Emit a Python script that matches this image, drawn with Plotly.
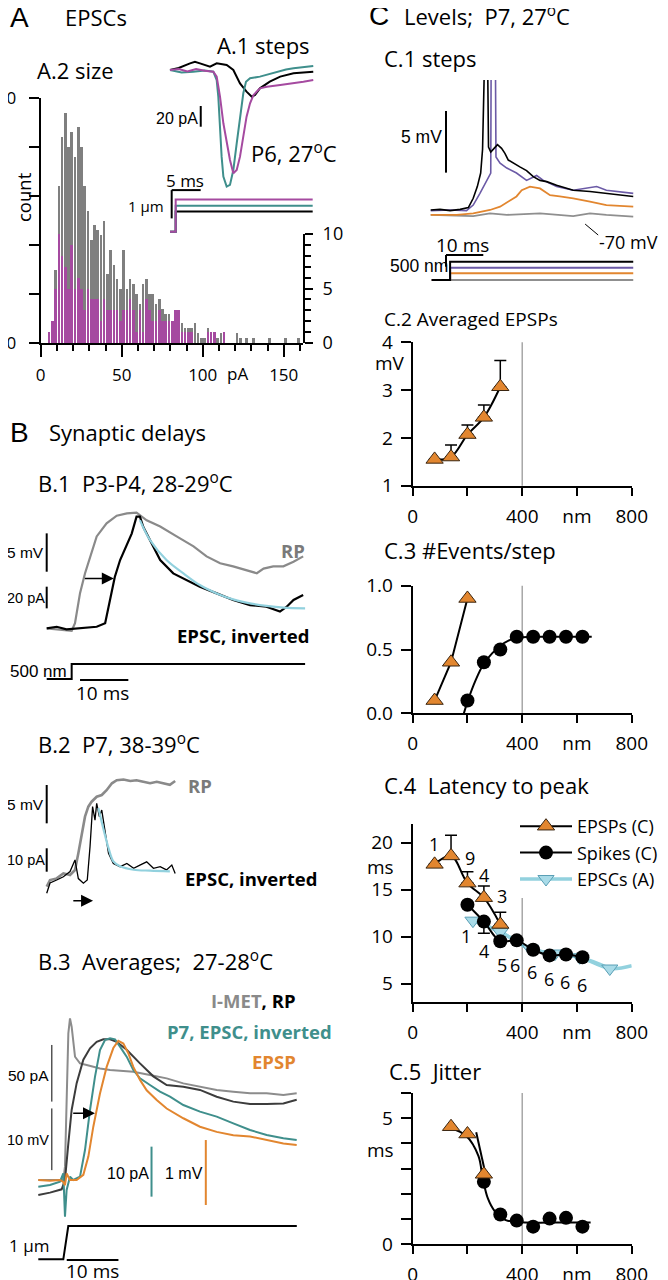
import plotly.graph_objects as go

W, H = 668, 1280
OFF = 8  # page body margin offset of the rendered figure
FONT = "Open Sans"
SCALEF = "Liberation Sans, Arial"
BIG = "Liberation Sans, Arial"

GRAYH = '#7f7f7f'; MAG = '#a54aa0'; TEAL = '#3f8f8c'; CYAN = '#92d1de'
ORANGE = '#e2862f'; PURPLE = '#6b5aa6'; DGRAY = '#3c3c3c'; LGRAY = '#8a8a8a'

# ---------------- A.2 histogram (2-pA bins) ----------------
hist_bin_pA = [5, 7, 9, 11, 13, 15, 17, 19, 21, 23, 25, 27, 29, 31, 33, 35, 37, 39, 41, 43,
               45, 47, 49, 51, 53, 55, 57, 59, 61, 63, 65, 67, 69, 71, 73, 75, 77, 79, 81, 83,
               85, 87, 89, 91, 93, 95, 97, 99, 101, 103, 105, 107, 109, 111, 113, 115, 117, 119, 121, 123,
               125, 127, 129, 131, 133, 135, 137, 139, 141, 143, 145, 147, 149, 151, 153, 155, 157, 159]
hist_all = [2, 4, 15, 32, 42, 47, 40, 43, 38, 44, 40, 32, 27, 21, 24, 23, 22, 25, 14, 19,
            16, 13, 11, 19, 11, 13, 12, 10, 8, 12, 13, 10, 10, 8, 9, 7, 6, 6, 4, 6,
            6, 4, 3, 3, 3, 4, 2, 1, 1, 3, 2, 2, 1, 2, 2, 0, 0, 0, 2, 1,
            0, 1, 0, 1, 0, 0, 0, 0, 1, 0, 0, 0, 0, 1, 0, 0, 0, 1]
hist_P6 = [1, 2, 5, 10, 8, 7, 5, 9, 5, 6, 5, 3, 5, 4, 4, 4, 2, 4, 3, 3,
           3, 3, 2, 3, 3, 4, 3, 1, 3, 1, 4, 3, 2, 2, 3, 2, 2, 2, 2, 3,
           3, 1, 1, 1, 1, 0, 0, 0, 0, 1, 1, 1, 0, 0, 1, 0, 0, 0, 0, 0,
           0, 0, 0, 0, 0, 0, 0, 0, 0, 0, 0, 0, 0, 0, 0, 0, 0, 0]

# ---------------- A.1 EPSC traces (ms, pA) and steps (um) ----------------
a1_t_mag = [0, 1.5, 3.0, 4.5, 6.0, 7.47, 8.05, 8.62, 9.2, 9.77, 10.34, 10.92, 11.5, 12.07, 12.64, 13.2, 13.8, 14.4, 15.5, 16.7, 19.0, 21.3, 23.0, 24.7]
a1_i_mag = [0, 1.0, -1.5, 1.0, -0.8, -1.6, -6.4, -25.8, -51.5, -70.8, -86.9, -99.8, -96.6, -83.7, -64.4, -45.1, -32.2, -24.1, -17.7, -16.1, -14.5, -12.9, -11.3, -9.7]
a1_t_teal = [0, 2.0, 4.0, 6.0, 7.47, 8.05, 8.33, 8.62, 8.9, 9.2, 9.77, 10.34, 10.92, 11.5, 12.07, 12.64, 13.1, 13.8, 15.5, 17.0, 18.4, 20.0, 21.3, 23.0, 24.7]
a1_i_teal = [0, -2.5, -1.6, -0.5, -1.6, -9.7, -25.8, -57.9, -83.7, -103, -112.7, -111, -96.6, -70.8, -45.1, -22.5, -11.3, -8.0, -6.4, -4.0, -1.6, 0.5, 1.6, 2.5, 3.9]
a1_t_blk = [0, 1.5, 3.45, 4.3, 5.17, 6.9, 8.05, 9.77, 10.92, 12.07, 13.2, 14.1, 14.66, 15.5, 17.2, 19.0, 21.3, 24.7]
a1_i_blk = [0, 2.0, 6.4, 8.0, 6.4, 3.2, 6.4, 4.8, 0, -12.9, -20.9, -25.8, -24.1, -17.7, -11.3, -6.4, -3.2, -1.6]
a1_step_t = [0, 0.98, 0.98, 24.6]
a1_step_mag = [0, 0, 1.14, 1.14]
a1_step_teal = [0, 0, 0.92, 0.92]
a1_step_blk = [0, 0, 0.71, 0.71]

# ---------------- B.1 (ms; RP in mV, EPSC in pA inverted) ----------------
b1_t_rp = [0, 5.17, 5.86, 6.9, 7.94, 8.97, 10.35, 12.4, 14.5, 16.6, 18.6, 20.7, 23.5, 26.9, 30.4, 33.1, 35.9, 38.6, 41.4, 43.5, 44.9, 46.9, 49.0, 51.1, 53.1]
b1_rp = [0.2, -0.1, 0.9, 4.8, 7.4, 9.6, 12.2, 13.9, 14.9, 15.2, 15.3, 14.3, 13.5, 12.2, 10.9, 9.6, 8.7, 8.3, 7.8, 7.4, 8.0, 8.3, 8.3, 8.9, 9.6]
b1_t_epsc = [0, 2.07, 4.1, 6.9, 10.35, 12.1, 13.1, 14.1, 15.2, 16.6, 17.6, 18.6, 19.3, 20.0, 21.4, 23.5, 26.2, 29.0, 31.7, 35.2, 38.6, 42.1, 45.5, 48.3, 49.7, 51.1, 53.1]
b1_epsc = [1.5, 3, 0.6, 1.5, 3, 6.2, 27.7, 49, 64.6, 78.5, 89, 104.6, 104.6, 95, 83, 64.6, 52.3, 46, 40, 33.8, 27.7, 23, 21.5, 17, 21.5, 27.7, 32.3]
b1_t_fit = [19.3, 21.4, 24.8, 28.3, 31.7, 35.2, 38.6, 42.1, 45.5, 49.0, 53.5]
b1_fit = [101.5, 83, 64.6, 52.3, 41.5, 33.8, 28.3, 24.6, 22.2, 20.6, 20]
b1_step_t = [0, 5.17, 5.17, 53.5]
b1_step_nm = [0, 0, 500, 500]

# ---------------- B.2 ----------------
b2_t_rp = [0, 0.69, 2.07, 3.45, 4.83, 5.86, 6.55, 7.24, 7.93, 8.62, 9.3, 10.35, 11.4, 12.4, 13.5, 14.5, 15.9, 17.3, 18.6, 20.0, 21.4, 22.8, 24.2, 25.5, 26.6]
b2_rp = [-0.48, 0.39, 0.6, 1.26, 1.04, 1.69, 3.87, 6.47, 8.65, 9.95, 10.6, 11.25, 11.47, 12.1, 13.0, 13.4, 13.5, 13.3, 13.4, 13.2, 13.0, 13.2, 13.0, 12.8, 13.3]
b2_t_epsc = [0, 0.69, 2.07, 3.45, 4.83, 5.86, 6.55, 7.6, 8.4, 8.97, 9.5, 10.0, 10.35, 10.9, 11.4, 12.1, 12.8, 13.8, 15.2, 16.6, 18.0, 19.3, 20.7, 22.1, 23.5, 24.8, 25.9, 26.6]
b2_epsc = [-4.4, 0, 1.3, 2.7, 4.9, 9.9, 1.9, -0.1, 1.3, 15.6, 32.8, 27.0, 34.2, 28.5, 31.3, 21.3, 12.7, 8.4, 7.0, 8.4, 6.3, 7.7, 9.1, 6.3, 7.0, 5.6, 7.7, 4.1]
b2_t_fit = [10.7, 11.7, 12.8, 13.8, 15.2, 18.0, 21.4, 25.5]
b2_fit = [32.2, 23.6, 15.0, 9.3, 7.2, 5.7, 5.3, 5.0]

# ---------------- B.3 averages ----------------
b3_t_imet = [0, 4.84, 5.16, 5.48, 5.81, 6.13, 6.45, 7.1, 8.07, 9.36, 10.64, 11.93, 13.87, 15.8, 18.38, 21.6, 24.83, 28.05, 31.27, 34.5, 37.72, 40.95, 44.17, 47.4, 49.98]
b3_imet = [0, 0, 11.8, 70.6, 129.4, 142.6, 135.3, 108.8, 102.9, 101.5, 100, 98.5, 97.1, 96.5, 95.6, 92.6, 89.7, 85.3, 82.4, 79.4, 77.9, 76.5, 76.5, 75, 76.5]
b3_t_rp = [0, 2.26, 4.52, 5.16, 5.81, 6.45, 7.42, 8.71, 10.0, 11.29, 12.58, 13.87, 15.16, 17.09, 19.67, 22.25, 24.83, 28.05, 31.27, 34.5, 37.72, 40.95, 44.17, 47.4, 49.98]
b3_rp = [-2.43, -2.05, -1.51, 0, 5.95, 11.35, 15.7, 19.5, 21.35, 22.4, 22.8, 22.8, 22.4, 21.1, 18.9, 16.8, 15.4, 15.1, 14.6, 13.5, 12.7, 12.3, 12.3, 12.4, 13.0]
b3_t_epsc = [0, 2.26, 4.19, 4.84, 5.16, 5.48, 6.13, 6.77, 8.07, 9.03, 10.0, 10.97, 11.93, 12.9, 13.87, 14.84, 15.8, 17.09, 18.38, 19.67, 21.6, 23.54, 25.47, 28.05, 31.27, 34.5, 37.72, 40.95, 44.17, 47.4, 49.98]
b3_epsc = [-1.33, -1.0, -0.33, 1.33, -7.33, -2.0, 0.67, 0, 0.67, 6.0, 14.0, 20.67, 26.0, 28.0, 28.33, 28.13, 26.67, 24.67, 22.0, 20.33, 19.0, 17.67, 16.67, 15.0, 13.67, 12.67, 11.33, 10.0, 9.0, 8.33, 8.0]
b3_t_epsp = [0, 2.26, 4.19, 4.84, 5.16, 5.48, 6.13, 7.42, 8.71, 9.68, 10.64, 11.93, 13.22, 14.51, 15.48, 16.45, 17.41, 18.38, 19.67, 20.96, 22.9, 24.83, 28.05, 31.27, 34.5, 37.72, 40.95, 44.17, 47.4, 49.98]
b3_epsp = [0, -0.01, 0, -0.03, -0.08, 0.1, 0, 0, 0.08, 0.36, 0.82, 1.33, 1.74, 2.03, 2.14, 2.1, 1.95, 1.74, 1.54, 1.38, 1.23, 1.1, 0.95, 0.82, 0.74, 0.69, 0.67, 0.62, 0.56, 0.54]
b3_step_t = [0, 4.84, 5.8, 50.0]
b3_step_um = [0, 0, 1, 1]

# ---------------- C.1 traces (ms, mV) and steps (nm) ----------------
c1_t_blk = [0, 2.5, 5.2, 7.9, 10.1, 11.4, 12.5, 13.4, 13.9, 14.3, 15.0, 15.5, 16.1, 17.0, 17.9, 19.0, 19.9, 20.8, 22.1, 23.9, 25.7, 27.5, 29.3, 31.1, 33.75, 38.2, 42.7, 47.1, 51.6, 54.3]
c1_v_blk = [0, 0.05, -0.05, 0.05, 0.2, 0.95, 1.9, 3.0, 4.9, 20, 20, 5.1, 4.7, 5.0, 5.3, 5.0, 4.6, 4.05, 3.8, 3.5, 3.2, 2.7, 2.4, 2.3, 2.0, 1.6, 1.5, 1.35, 1.2, 1.1]
c1_t_pur = [0, 5.2, 9.6, 11.4, 13.2, 15.0, 16.1, 16.3, 17.2, 17.5, 18.6, 20.4, 23.0, 25.7, 28.4, 30.2, 33.75, 38.2, 44.5, 47.1, 54.3]
c1_v_pur = [-0.05, 0, -0.05, 0.4, 1.35, 2.3, 3.0, 20, 20, 4.3, 3.8, 3.4, 3.0, 2.4, 2.8, 2.4, 1.9, 1.6, 1.9, 1.6, 1.35]
c1_t_ora = [0, 7.0, 11.4, 15.9, 18.6, 21.25, 23.0, 24.4, 26.6, 29.3, 32.0, 34.6, 38.2, 42.7, 47.1, 54.3]
c1_v_ora = [-0.4, -0.4, -0.27, 0, 0.27, 0.8, 1.1, 1.6, 1.9, 1.75, 1.2, 1.1, 0.95, 0.68, 0.4, 0.27]
c1_t_gry = [0, 11.4, 15.9, 20.4, 29.3, 38.2, 42.7, 47.1, 54.3]
c1_v_gry = [-0.4, -0.5, -0.27, -0.4, -0.27, -0.5, -0.27, -0.4, -0.54]
c1_step_t = [0.27, 5.2, 5.2, 54.3]
c1_step_levels = {'black': 782, 'purple': 526, 'orange': 286, 'gray': 0}

# ---------------- C.2 - C.5 summary data (nm) ----------------
c2_nm = [80, 140, 200, 260, 320]
c2_mV = [1.55, 1.6, 2.07, 2.43, 3.07]
c2_err = [0, 0.25, 0.2, 0.26, 0.55]

c3_epsp_nm = [80, 140, 200]
c3_epsp_n = [0.1, 0.4, 0.9]
c3_spk_nm = [200, 260, 320, 380, 440, 500, 560, 620]
c3_spk_n = [0.1, 0.4, 0.5, 0.6, 0.6, 0.6, 0.6, 0.6]
c3_fit_nm = [187, 200, 230, 260, 290, 320, 350, 380, 440, 500, 560, 620, 654]
c3_fit_n = [0, 0.09, 0.26, 0.39, 0.47, 0.53, 0.57, 0.59, 0.6, 0.6, 0.6, 0.6, 0.6]

c4_epsp_nm = [80, 140, 200, 260, 320]
c4_epsp_ms = [17.7, 18.6, 15.7, 14.15, 11.3]
c4_epsp_err = [0, 2.2, 1.2, 1.25, 1.3]
c4_epsp_n = ['1', '4', '9', '4', '3']
c4_spk_nm = [200, 260, 320, 380, 440, 500, 560, 620]
c4_spk_ms = [13.4, 11.6, 9.5, 9.6, 8.6, 8.0, 8.1, 7.8]
c4_spk_err = [0, 1.25, 0, 0, 0, 0, 0, 0]
c4_spk_n = ['1', '4', '5', '6', '6', '6', '6', '6']
c4_epsc_nm = [220, 320, 430, 520, 610, 720]
c4_epsc_ms = [11.7, 10.5, 8.7, 8.2, 7.8, 6.6]
c4_epsc_line_nm = [220, 320, 430, 520, 610, 720, 800]
c4_epsc_line_ms = [11.7, 10.5, 8.7, 8.2, 7.8, 6.6, 6.9]

c5_epsp_nm = [140, 200, 260]
c5_epsp_ms = [4.66, 4.37, 2.77]
c5_spk_nm = [260, 320, 380, 440, 500, 560, 620]
c5_spk_ms = [2.47, 1.17, 0.93, 0.69, 1.01, 1.04, 0.69]
c5_fit_nm = [140, 195, 240, 256, 275, 300, 340, 400, 500, 650]
c5_fit_ms = [4.6, 4.3, 3.5, 2.6, 1.8, 1.3, 0.95, 0.86, 0.85, 0.85]
c5_epsp_fit_nm = [232, 271]
c5_epsp_fit_ms = [4.44, 2.53]

# ======================================================================
layout = {}
shapes = []
annotations = []
traces = []
axn = [0]


def PX(px):
    return (px - OFF) / W


def PY(py):
    return 1 - (py - OFF) / H


def new_axes(xpx, ypx, xr, yr, xkw=None, ykw=None):
    axn[0] += 1
    n = axn[0]
    s = '' if n == 1 else str(n)
    xa = dict(domain=[PX(xpx[0]), PX(xpx[1])], range=xr, anchor='y' + s, automargin=False,
              visible=False, fixedrange=True, showgrid=False, zeroline=False)
    ya = dict(domain=[PY(ypx[1]), PY(ypx[0])], range=yr, anchor='x' + s, automargin=False,
              visible=False, fixedrange=True, showgrid=False, zeroline=False)
    if xkw:
        xa.update(xkw)
    if ykw:
        ya.update(ykw)
    layout['xaxis' + s] = xa
    layout['yaxis' + s] = ya
    return 'x' + s, 'y' + s


def cal_axes(xpx, ypx, x0px, ppx, y0py, ppy):
    xr = [(xpx[0] - x0px) / ppx, (xpx[1] - x0px) / ppx]
    yr = [(y0py - ypx[1]) / ppy, (y0py - ypx[0]) / ppy]
    return new_axes(xpx, ypx, xr, yr)


def line(ax, x, y, color, width=2, shape='linear', dash=None):
    traces.append(go.Scatter(x=x, y=y, xaxis=ax[0], yaxis=ax[1], mode='lines',
                             line=dict(color=color, width=width, shape=shape, dash=dash),
                             showlegend=False, hoverinfo='skip'))


def bar(ax, x0, y0, x1, y1, color='black', width=2):
    shapes.append(dict(type='line', xref=ax[0], yref=ax[1], x0=x0, y0=y0, x1=x1, y1=y1,
                       line=dict(color=color, width=width)))


def txt(px, py, text, size=20, xa='left', ya='middle', color='black', family=FONT, angle=0):
    annotations.append(dict(x=PX(px), y=PY(py), xref='paper', yref='paper', text=text,
                            showarrow=False, xanchor=xa, yanchor=ya, textangle=angle,
                            font=dict(size=size, color=color, family=family)))


def arrow(ax, x0, y0, x1, y1):
    annotations.append(dict(x=x1, y=y1, ax=x0, ay=y0, xref=ax[0], yref=ax[1], axref=ax[0],
                            ayref=ax[1], showarrow=True, arrowhead=2, arrowsize=1.6,
                            arrowwidth=1.5, arrowcolor='black', text=''))


# ---------------- A.2 histogram ----------------
tickfont17 = dict(size=17, family=FONT, color='black')
hx = new_axes((40.7, 303), (98, 343), [0, 161.9], [0, 50],
              xkw=dict(visible=True, showline=True, linecolor='black', linewidth=2,
                       ticks='outside', ticklen=12, tickwidth=2, tickcolor='black',
                       tickmode='linear', tick0=0, dtick=50, tickfont=tickfont17,
                       ticklabelstandoff=4,
                       minor=dict(ticks='outside', ticklen=6, tickwidth=2, tickcolor='black', dtick=10, tick0=0)),
              ykw=dict(visible=True, showline=True, linecolor='black', linewidth=2,
                       ticks='outside', ticklen=10, tickwidth=2, tickcolor='black',
                       tickvals=[0, 10, 20, 30, 40, 50], ticktext=['0', '', '', '', '', '50'],
                       tickfont=tickfont17, ticklabelstandoff=9))
traces.append(go.Bar(x=hist_bin_pA, y=hist_all, width=1.6, marker=dict(color=GRAYH, line=dict(width=0)),
                     xaxis=hx[0], yaxis=hx[1], showlegend=False, hoverinfo='skip'))
hm = new_axes((40.7, 303), (234, 343), [0, 161.9], [0, 10],
              ykw=dict(visible=True, side='right', showline=True, linecolor='black', linewidth=2,
                       ticks='outside', ticklen=8, tickwidth=2, tickcolor='black',
                       tickmode='linear', tick0=0, dtick=5, tickfont=dict(size=18, family=FONT, color='black'),
                       ticklabelstandoff=6,
                       minor=dict(ticks='outside', ticklen=6, tickwidth=2, tickcolor='black', dtick=1, tick0=0)))
traces.append(go.Bar(x=hist_bin_pA, y=hist_P6, width=1.6, marker=dict(color=MAG, line=dict(width=0)),
                     xaxis=hm[0], yaxis=hm[1], showlegend=False, hoverinfo='skip'))

# ---------------- A.1 ----------------
a1 = cal_axes((165, 318), (35, 190), 170, 5.8, 70, 1.035)
line(a1, a1_t_blk, a1_i_blk, 'black', 2)
line(a1, a1_t_teal, a1_i_teal, TEAL, 2)
line(a1, a1_t_mag, a1_i_mag, MAG, 2)
bar(a1, 5.3, -34.8, 5.3, -54.8)
a1s = cal_axes((165, 318), (185, 235), 170, 5.8, 231.7, 28.3)
line(a1s, a1_step_t, a1_step_blk, 'black', 2)
line(a1s, a1_step_t, a1_step_teal, TEAL, 2)
line(a1s, a1_step_t, a1_step_mag, MAG, 2)
bar(a1s, 0.29, 1.47, 5.29, 1.47)
bar(a1s, 0.29, 0.47, 0.29, 1.47)

# ---------------- B.1 ----------------
b1v = cal_axes((40, 312), (505, 650), 46.7, 4.83, 630, 7.67)
b1i = cal_axes((40, 312), (505, 650), 46.7, 4.83, 630, 1.083)
line(b1v, b1_t_rp, b1_rp, LGRAY, 2.2)
line(b1i, b1_t_epsc, b1_epsc, 'black', 2.2)
line(b1i, b1_t_fit, b1_fit, CYAN, 2.2, shape='spline')
bar(b1v, 0, 7.6, 0, 12.6)
bar(b1i, 0, 20, 0, 40)
arrow(b1v, 7.6, 6.7, 13.9, 6.7)
b1s = cal_axes((40, 312), (655, 690), 46.7, 4.83, 679, 0.03)
line(b1s, b1_step_t, b1_step_nm, 'black', 2)
bar(b1s, 6.9, -33, 16.9, -33)

# ---------------- B.2 ----------------
b2v = cal_axes((40, 200), (770, 905), 46.7, 4.83, 883, 7.67)
b2i = cal_axes((40, 200), (770, 905), 46.7, 4.83, 883, 2.33)
line(b2i, b2_t_epsc, b2_epsc, 'black', 1.3)
line(b2i, b2_t_fit, b2_fit, CYAN, 2.2, shape='spline')
line(b2v, b2_t_rp, b2_rp, LGRAY, 2.6)
bar(b2v, 0, 7.78, 0, 12.78)
bar(b2i, 0, 4.85, 0, 14.9)
arrow(b2i, 5.2, -7.6, 9.6, -7.6)

# ---------------- B.3 ----------------
b3m = cal_axes((30, 300), (990, 1222), 38.3, 5.17, 1180, 1.133)
b3r = cal_axes((30, 300), (990, 1222), 38.3, 5.17, 1180, 6.17)
b3e = cal_axes((30, 300), (990, 1222), 38.3, 5.17, 1180, 5.0)
b3p = cal_axes((30, 300), (990, 1222), 38.3, 5.17, 1180, 65.0)
line(b3m, b3_t_imet, b3_imet, '#8c8c8c', 2)
line(b3r, b3_t_rp, b3_rp, DGRAY, 2)
line(b3e, b3_t_epsc, b3_epsc, TEAL, 2)
line(b3p, b3_t_epsp, b3_epsp, ORANGE, 2)
bar(b3m, 2.6, 69.2, 2.6, 119.2, '#555555', 1.5)
bar(b3r, 2.6, 1.6, 2.6, 11.6, '#555555', 1.5)
bar(b3e, 21.9, -3.33, 21.9, 6.67, TEAL, 2)
bar(b3p, 32.4, -0.385, 32.4, 0.615, ORANGE, 2)
arrow(b3r, 6.46, 10.8, 10.97, 10.8)
b3s = cal_axes((30, 300), (1223, 1266), 38.3, 5.17, 1259.3, 33.3)
line(b3s, b3_step_t, b3_step_um, 'black', 2)
bar(b3s, 5.5, -0.02, 15.5, -0.02)

# ---------------- C.1 ----------------
c1 = cal_axes((425, 640), (80, 240), 430.7, 3.73, 210, 12.33)
line(c1, c1_t_gry, c1_v_gry, '#8f8f8f', 1.8)
line(c1, c1_t_ora, c1_v_ora, ORANGE, 1.8)
line(c1, c1_t_pur, c1_v_pur, PURPLE, 1.6)
line(c1, c1_t_blk, c1_v_blk, 'black', 1.6)
bar(c1, 4.1, 3.03, 4.1, 8.03)
bar(c1, 41.4, -1.14, 44.9, -2.03, 'black', 1)
c1s = cal_axes((425, 640), (250, 285), 430.7, 3.73, 280, 0.0234)
for name, col in [('gray', '#8f8f8f'), ('orange', ORANGE), ('purple', PURPLE), ('black', 'black')]:
    lv = c1_step_levels[name]
    line(c1s, c1_step_t, [0, 0, lv, lv], col, 2)
bar(c1s, 4.1, 568, 4.1, 1068)
bar(c1s, 4.1, 1068, 14.1, 1068)

# ---------------- C.2 - C.5 summary axes ----------------
TF = dict(size=19, family=FONT, color='black')


def summary_axes(ypx, yr, ytv, ytt):
    return new_axes((412.7, 631.7), ypx, [0, 800], yr,
                    xkw=dict(visible=True, showline=True, linecolor='black', linewidth=2,
                             ticks='outside', ticklen=8, tickwidth=2, tickcolor='black',
                             tickvals=[0, 200, 400, 600, 800], ticktext=['0', '', '400', 'nm', '800'],
                             tickfont=TF, ticklabelstandoff=4),
                    ykw=dict(visible=True, showline=True, linecolor='black', linewidth=2,
                             ticks='outside', ticklen=10, tickwidth=2, tickcolor='black',
                             tickvals=ytv, ticktext=ytt, tickfont=TF, ticklabelstandoff=4))


def vline400(ax):
    shapes.append(dict(type='line', xref=ax[0], yref=ax[1] + ' domain', x0=400, x1=400, y0=0, y1=1,
                       line=dict(color='#9a9a9a', width=1.3), layer='below'))


TRI = dict(symbol='triangle-up', size=15, color=ORANGE, line=dict(color='#3a2510', width=1))
DOT = dict(symbol='circle', size=14, color='black')
ITRI = dict(symbol='triangle-down', size=14, color='#a9dbe8', line=dict(color='#5a9fb5', width=1))

c2 = summary_axes((342.3, 485.7), [1, 4], [1, 2, 3, 4], ['1', '2', '3', '4'])
vline400(c2)
traces.append(go.Scatter(x=c2_nm, y=c2_mV, xaxis=c2[0], yaxis=c2[1], mode='lines+markers',
                         line=dict(color='black', width=2, shape='spline'), marker=TRI,
                         error_y=dict(type='data', array=c2_err, arrayminus=[0] * len(c2_err), symmetric=False,
                                      color='black', thickness=1.5, width=6),
                         showlegend=False, hoverinfo='skip', cliponaxis=False))

c3 = summary_axes((585.7, 713.3), [0, 1.0], [0, 0.5, 1.0], ['0.0', '0.5', '1.0'])
vline400(c3)
traces.append(go.Scatter(x=c3_fit_nm, y=c3_fit_n, xaxis=c3[0], yaxis=c3[1], mode='lines',
                         line=dict(color='black', width=2, shape='spline'), showlegend=False, hoverinfo='skip'))
traces.append(go.Scatter(x=c3_spk_nm, y=c3_spk_n, xaxis=c3[0], yaxis=c3[1], mode='markers',
                         marker=DOT, showlegend=False, hoverinfo='skip', cliponaxis=False))
traces.append(go.Scatter(x=c3_epsp_nm, y=c3_epsp_n, xaxis=c3[0], yaxis=c3[1], mode='lines+markers',
                         line=dict(color='black', width=2), marker=TRI, showlegend=False, hoverinfo='skip',
                         cliponaxis=False))

c4 = summary_axes((824, 1002.3), [3, 22], [5, 10, 15, 20], ['5', '10', '15', '20'])
vline400(c4)
traces.append(go.Scatter(x=c4_epsc_line_nm, y=c4_epsc_line_ms, xaxis=c4[0], yaxis=c4[1], mode='lines',
                         line=dict(color=CYAN, width=3.5, shape='spline'), showlegend=False, hoverinfo='skip',
                         legendgroup='c'))
traces.append(go.Scatter(x=c4_epsc_nm, y=c4_epsc_ms, xaxis=c4[0], yaxis=c4[1], mode='lines+markers',
                         line=dict(color=CYAN, width=3.5, shape='spline'), marker=ITRI, name='EPSCs (A)',
                         legendgroup='c', legendrank=3, hoverinfo='skip'))
traces.append(go.Scatter(x=c4_spk_nm, y=c4_spk_ms, xaxis=c4[0], yaxis=c4[1], mode='lines+markers',
                         line=dict(color='black', width=2, shape='spline'), marker=DOT, name='Spikes (C)',
                         error_y=dict(type='data', array=[0] * 8, arrayminus=c4_spk_err, symmetric=False,
                                      color='black', thickness=1.5, width=6),
                         legendgroup='b', legendrank=2, hoverinfo='skip'))
traces.append(go.Scatter(x=c4_epsp_nm, y=c4_epsp_ms, xaxis=c4[0], yaxis=c4[1], mode='lines+markers',
                         line=dict(color='black', width=2, shape='spline'), marker=TRI, name='EPSPs (C)',
                         error_y=dict(type='data', array=c4_epsp_err, arrayminus=[0] * 5, symmetric=False,
                                      color='black', thickness=1.5, width=6),
                         legendgroup='a', legendrank=1, hoverinfo='skip'))
# n labels
epsp_lab_pos = [(79, 19.9), (140, 22.1), (211, 18.4), (260, 16.6), (325, 14.3)]
spk_lab_pos = [(196, 10.1), (260, 8.5), (325, 7.0), (374, 7.0), (437, 6.2), (498, 5.5), (558, 5.2), (619, 4.8)]
for (xx, yy), t in zip(epsp_lab_pos, c4_epsp_n):
    annotations.append(dict(x=xx, y=yy, xref=c4[0], yref=c4[1], text=t, showarrow=False,
                            font=dict(size=18, family=FONT, color='black')))
for (xx, yy), t in zip(spk_lab_pos, c4_spk_n):
    annotations.append(dict(x=xx, y=yy, xref=c4[0], yref=c4[1], text=t, showarrow=False,
                            font=dict(size=18, family=FONT, color='black')))

c5 = summary_axes((1093, 1244), [0, 6], [0, 1, 2, 3, 4, 5, 6], ['0', '', '', '', '', '5', ''])
vline400(c5)
traces.append(go.Scatter(x=c5_fit_nm, y=c5_fit_ms, xaxis=c5[0], yaxis=c5[1], mode='lines',
                         line=dict(color='black', width=2, shape='spline'), showlegend=False, hoverinfo='skip'))
traces.append(go.Scatter(x=c5_epsp_fit_nm, y=c5_epsp_fit_ms, xaxis=c5[0], yaxis=c5[1], mode='lines',
                         line=dict(color='black', width=2), showlegend=False, hoverinfo='skip'))
traces.append(go.Scatter(x=c5_spk_nm, y=c5_spk_ms, xaxis=c5[0], yaxis=c5[1], mode='markers',
                         marker=DOT, showlegend=False, hoverinfo='skip', cliponaxis=False))
traces.append(go.Scatter(x=c5_epsp_nm, y=c5_epsp_ms, xaxis=c5[0], yaxis=c5[1], mode='markers',
                         marker=TRI, showlegend=False, hoverinfo='skip', cliponaxis=False))

# ---------------- texts ----------------
DEG = '<sup>o</sup>'
TS = 22
txt(8, 17, 'A', 28, family=BIG)
txt(63, 17, 'EPSCs', TS)
txt(215, 45, 'A.1 steps', TS)
txt(35, 70, 'A.2 size', TS)
txt(249, 152, 'P6, 27' + DEG + 'C', TS)
txt(200, 118, '20 pA', 16, xa='right', family=SCALEF)
txt(185, 181, '5 ms', 17, xa='center')
txt(166, 206, '1 µm', 15, xa='right')
txt(23, 197, 'count', 18.5, xa='center', angle=-90)
txt(237, 373, 'pA', 17, xa='center')

txt(8, 432, 'B', 28, family=BIG)
txt(47, 432, 'Synaptic delays', TS)
txt(36, 482, 'B.1  P3-P4, 28-29' + DEG + 'C', TS)
txt(46, 552, '5 mV', 15.5, xa='right', family=SCALEF)
txt(46.5, 598, '20 pA', 14.5, xa='right', family=SCALEF)
txt(307, 550, '<b>RP</b>', 18.5, xa='right', color='#7a7a7a')
txt(311, 635, '<b>EPSC, inverted</b>', 18.5, xa='right')
txt(69, 671, '500 nm', 17, xa='right', family=SCALEF)
txt(102, 693, '10 ms', 19, xa='center')

txt(36, 743, 'B.2  P7, 38-39' + DEG + 'C', TS)
txt(46, 804, '5 mV', 15.5, xa='right', family=SCALEF)
txt(46.5, 860, '10 pA', 14.5, xa='right', family=SCALEF)
txt(186, 785, '<b>RP</b>', 18.5, color='#7a7a7a')
txt(183, 878, '<b>EPSC, inverted</b>', 18.5)

txt(36, 960, 'B.3  Averages;  27-28' + DEG + 'C', TS)
txt(298, 1000, '<b><span style="color:#8a8a8a">I-MET</span>, RP</b>', 18.5, xa='right')
txt(334, 1031, '<b>P7, EPSC, inverted</b>', 18.5, xa='right', color=TEAL)
txt(298, 1061, '<b>EPSP</b>', 18.5, xa='right', color=ORANGE)
txt(51, 1075, '50 pA', 15.5, xa='right', family=SCALEF)
txt(51, 1140, '10 mV', 14.5, xa='right', family=SCALEF)
txt(151, 1173, '10 pA', 16, xa='right', family=SCALEF)
txt(205, 1173, '1 mV', 16, xa='right', family=SCALEF)
txt(51, 1245, '1 µm', 17, xa='right')
txt(92, 1271, '10 ms', 19, xa='center')

txt(367, 16, 'C', 28, family=BIG)
txt(402, 16, 'Levels;  P7, 27' + DEG + 'C', TS)
txt(382, 58, 'C.1 steps', TS)
txt(444, 137, '5 mV', 17.5, xa='right', family=SCALEF)
txt(597, 242, '-70 mV', 18)
txt(463, 245, '10 ms', 19, xa='center')
txt(450, 266, '500 nm', 17.5, xa='right', family=SCALEF)
txt(382, 319, 'C.2 Averaged EPSPs', 19)
txt(407, 363, 'mV', 19, xa='right')
txt(382, 550, 'C.3 #Events/step', TS)
txt(382, 785, 'C.4  Latency to peak', TS)
txt(396, 867, 'ms', 19, xa='right')
txt(387, 1071, 'C.5  Jitter', TS)
txt(396, 1150, 'ms', 19, xa='right')

fig = go.Figure(data=traces)
fig.update_layout(**layout)
fig.update_layout(width=W, height=H, autosize=False, margin=dict(l=0, r=0, t=0, b=0, autoexpand=False),
                  paper_bgcolor='white', plot_bgcolor='rgba(0,0,0,0)',
                  shapes=shapes, annotations=annotations, barmode='overlay', bargap=0,
                  font=dict(family=FONT, size=16, color='black'),
                  showlegend=True,
                  legend=dict(x=PX(515), y=PY(808), xanchor='left', yanchor='top',
                              bgcolor='rgba(255,255,255,1)', itemwidth=52, tracegroupgap=12,
                              font=dict(size=18, family=FONT, color='black'), traceorder='normal'))
fig.write_html("out.html")
